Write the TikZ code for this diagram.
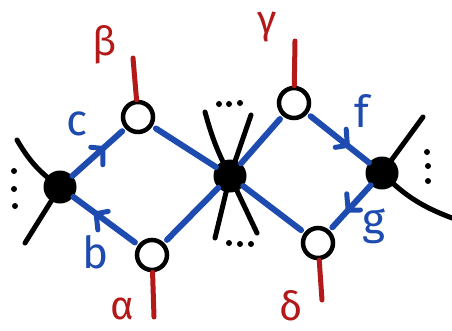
\documentclass[tikz,border=0pt]{standalone}
\usepackage{fontspec}
\setmainfont{Fira Sans}
\usetikzlibrary{decorations.markings}
\definecolor{penblue}{RGB}{30,75,175}
\definecolor{penred}{RGB}{180,25,25}
\begin{document}
\begin{tikzpicture}[x=1pt,y=-1pt,
    vtx/.style={circle,fill=black,minimum size=33pt,inner sep=0pt},
    hole/.style={circle,draw=black,line width=4.5pt,fill=white,minimum size=30pt,inner sep=0pt},
    leg/.style={line width=5pt,line cap=round},
    strand/.style={penblue,line width=6pt,line cap=round},
    ext/.style={penred,line width=5pt,line cap=round},
    midarrow/.style={postaction={decorate},decoration={markings,
        mark=at position #1 with {\draw[penblue,line width=5pt,line cap=round,line join=round]
            (-11pt,-12pt) -- (0pt,0pt) -- (-11pt,12pt);}}},
    blab/.style={penblue,font=\fontsize{44}{44}\selectfont},
    rlab/.style={penred,font=\fontsize{40}{40}\selectfont}]
    \useasboundingbox (0,0) rectangle (452,330);
    % vertices and holes
    \node[vtx] (L) at (60,187) {};
    \node[vtx] (C) at (230,176) {};
    \node[vtx] (R) at (382,173) {};
    \node[hole] (beta) at (138,117) {};
    \node[hole] (alpha) at (152,255) {};
    \node[hole] (gamma) at (294,103) {};
    \node[hole] (delta) at (318,243) {};
    % strands
    \draw[strand,midarrow=0.58,shorten >=4pt] (L) -- (beta);
    \draw[strand,midarrow=0.65,shorten <=4pt] (alpha) -- (L);
    \draw[strand,shorten <=4pt] (beta) -- (C);
    \draw[strand,shorten <=4pt] (alpha) -- (C);
    \draw[strand,shorten >=4pt] (C) -- (gamma);
    \draw[strand,shorten >=4pt] (C) -- (delta);
    \draw[strand,midarrow=0.65,shorten <=4pt] (gamma) -- (R);
    \draw[strand,midarrow=0.55,shorten >=4pt] (R) -- (delta);
    % legs
    \coordinate (l1) at (17,140);
    \coordinate (l2) at (25,243);
    \coordinate (c1) at (205,112);
    \coordinate (c2) at (251,115);
    \coordinate (c3) at (215,238);
    \coordinate (c4) at (257,233);
    \coordinate (r1) at (423,117);
    \coordinate (r2) at (452,218);
    \draw[leg] (L.center) to[bend left=12] (l1);
    \draw[leg] (L.center) -- (l2);
    \draw[leg] (C.center) to[bend left=6] (c1);
    \draw[leg] (C.center) -- (c2);
    \draw[leg] (C.center) -- (c3);
    \draw[leg] (C.center) -- (c4);
    \draw[leg] (R.center) -- (r1);
    \draw[leg] (R.center) to[bend right=12] (r2);
    \foreach \x/\y in {14/171,14/189,15/206,219/104,229/104,240/103,229/243,240/244,251/244,427/152,428/166,428/181}
        \fill (\x,\y) circle[radius=3pt];
    % external legs
    \coordinate (bt) at (133,58);
    \coordinate (at) at (154,317);
    \coordinate (gt) at (295,41);
    \coordinate (dt) at (322,300);
    \draw[ext] (beta) -- (bt);
    \draw[ext] (alpha) -- (at);
    \draw[ext] (gamma) -- (gt);
    \draw[ext] (delta) -- (dt);
    % labels
    \node[rlab] (lbeta) at (105,45) {β};
    \node[rlab] (lalpha) at (122,309) {α};
    \node[rlab] (lgamma) at (267,27) {γ};
    \node[rlab] (ldelta) at (291,306) {δ};
    \node[blab] (lc) at (77,124) {c};
    \node[blab] (lb) at (96,252) {b};
    \node[blab] (lf) at (362,111) {f};
    \node[blab] (lg) at (374,226) {g};
\end{tikzpicture}
\end{document}
